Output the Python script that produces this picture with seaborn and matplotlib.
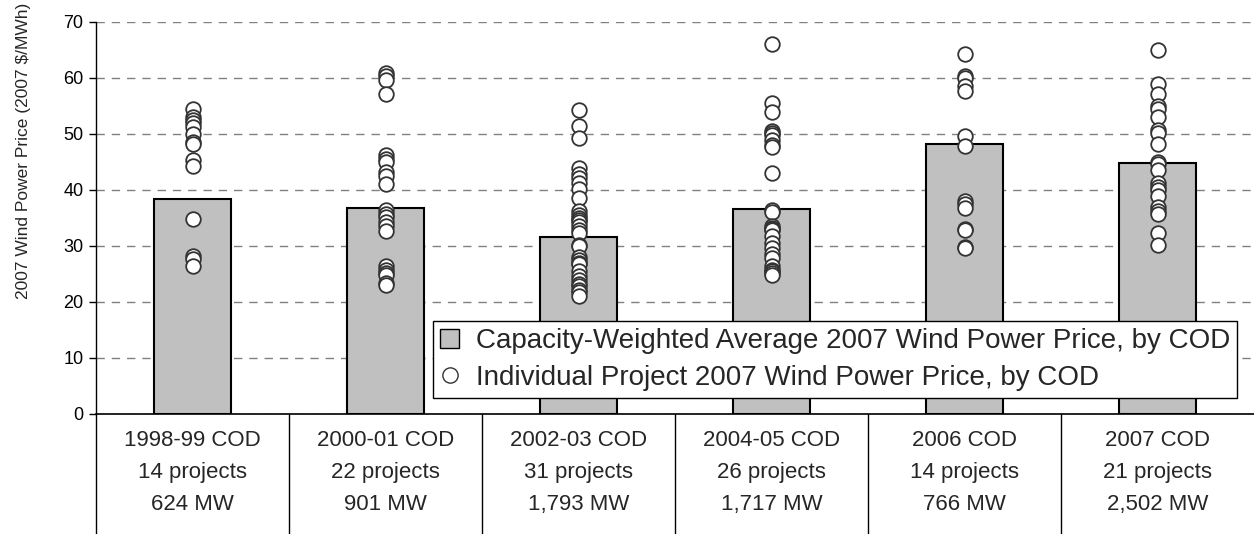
import numpy as np
import pandas as pd
import matplotlib
matplotlib.use("Agg")
import matplotlib.pyplot as plt
import matplotlib.transforms as mtransforms
from matplotlib.patches import Patch
from matplotlib.lines import Line2D
import seaborn as sns

# categories and table rows under the axis
cods = ["1998-99 COD", "2000-01 COD", "2002-03 COD", "2004-05 COD", "2006 COD", "2007 COD"]
n_projects = ["14 projects", "22 projects", "31 projects", "26 projects", "14 projects", "21 projects"]
capacity = ["624 MW", "901 MW", "1,793 MW", "1,717 MW", "766 MW", "2,502 MW"]

# capacity-weighted average price by COD
avg_price = [38.4, 36.8, 31.6, 36.6, 48.3, 44.8]

# individual project prices
p_1998 = [54.5, 53.0, 52.5, 52.0, 51.2, 50.0, 48.6, 48.2, 45.4, 44.2, 34.8, 28.2, 27.6, 26.5]
p_2000 = [60.9, 60.3, 59.6, 57.1, 46.3, 45.6, 45.0, 43.3, 42.5, 41.0, 36.4, 35.8, 35.2, 34.3,
          33.5, 32.7, 26.4, 25.8, 25.2, 24.8, 23.4, 23.0]
p_2002 = [54.2, 51.5, 49.3, 43.9, 42.8, 42.1, 41.3, 40.1, 38.6, 36.2, 35.6, 35.0, 34.6, 34.2,
          33.5, 32.9, 32.3, 30.2, 30.0, 28.1, 27.5, 27.0, 26.7, 25.5, 24.6, 24.0, 23.2, 22.8,
          22.2, 21.8, 21.0]
p_2004 = [66.1, 55.5, 54.0, 50.5, 50.2, 49.9, 49.0, 48.0, 47.6, 43.0, 36.5, 36.0, 33.5, 33.2,
          33.0, 32.8, 31.7, 30.5, 29.6, 28.5, 27.9, 26.5, 25.8, 25.5, 25.2, 24.9]
p_2006 = [64.2, 60.3, 60.0, 58.6, 57.6, 49.7, 47.8, 38.1, 37.5, 36.8, 33.0, 32.8, 29.9, 29.6]
p_2007 = [65.0, 59.0, 57.2, 55.0, 54.5, 53.0, 50.8, 50.2, 48.2, 45.0, 44.6, 43.5, 41.2, 40.5,
          40.0, 39.0, 37.0, 36.3, 35.8, 32.4, 30.2]

groups = [p_1998, p_2000, p_2002, p_2004, p_2006, p_2007]

df_avg = pd.DataFrame({"cod": cods, "price": avg_price})
df_pts = pd.DataFrame({
    "cod": [c for c, g in zip(cods, groups) for _ in g],
    "price": [v for g in groups for v in g],
})

sns.set_style("white")
plt.rcParams["font.family"] = ["Liberation Sans", "DejaVu Sans"]

fig = plt.figure(figsize=(12.54, 5.34), dpi=100)
ax = fig.add_axes([96 / 1254, 120 / 534, 1158 / 1254, 392 / 534])

sns.barplot(data=df_avg, x="cod", y="price", order=cods, color="#c0c0c0",
            saturation=1, width=0.4, edgecolor="black", linewidth=1.5, ax=ax, zorder=2)
sns.stripplot(data=df_pts, x="cod", y="price", order=cods, jitter=False,
              color="white", edgecolor="#333333", linewidth=1.3, size=10.5, ax=ax, zorder=3)

ax.set_xlim(-0.5, 5.5)
ax.set_ylim(0, 70)
ax.set_yticks(range(0, 71, 10))
ax.yaxis.grid(True, linestyle=(0, (6, 5)), color="#808080", linewidth=1.0)
ax.set_axisbelow(True)
for s in ["top", "right"]:
    ax.spines[s].set_visible(False)
ax.spines["left"].set_color("black")
ax.spines["bottom"].set_color("black")
ax.spines["left"].set_linewidth(1.0)
ax.spines["bottom"].set_linewidth(1.2)
ax.tick_params(axis="y", which="both", left=True, length=5, width=1.0,
               labelsize=13, pad=4, colors="black")
ax.tick_params(axis="x", bottom=False, labelbottom=False)
ax.set_xlabel("")
ax.set_ylabel("2007 Wind Power Price (2007 $/MWh)", fontsize=12.5)
ax.yaxis.set_label_coords(-0.056, 0.67)

# table under the axis
trans = mtransforms.blended_transform_factory(ax.transData, ax.transAxes)
row_y = [-0.068, -0.150, -0.232]
for i in range(len(cods)):
    for y, txt in zip(row_y, [cods[i], n_projects[i], capacity[i]]):
        ax.text(i, y, txt, transform=trans, ha="center", va="center", fontsize=16)
for b in np.arange(-0.5, 5.5, 1.0):
    ax.plot([b, b], [0, -0.31], transform=trans, color="black", linewidth=1.0, clip_on=False)

handles = [
    Patch(facecolor="#c0c0c0", edgecolor="black", linewidth=1.0,
          label="Capacity-Weighted Average 2007 Wind Power Price, by COD"),
    Line2D([], [], marker="o", linestyle="none", markerfacecolor="white",
           markeredgecolor="#333333", markersize=11,
           label="Individual Project 2007 Wind Power Price, by COD"),
]
leg = ax.legend(handles=handles, loc="lower left", bbox_to_anchor=(433 / 1254, 136 / 534),
                bbox_transform=fig.transFigure, fontsize=20, frameon=True, fancybox=False,
                framealpha=1, borderaxespad=0, handlelength=0.7, handleheight=0.7,
                handletextpad=0.6, labelspacing=0.4, borderpad=0.25)
leg.get_frame().set_edgecolor("black")
leg.get_frame().set_facecolor("white")
leg.get_frame().set_linewidth(1.0)
leg.set_zorder(5)

fig.savefig("out.png", dpi=100)
